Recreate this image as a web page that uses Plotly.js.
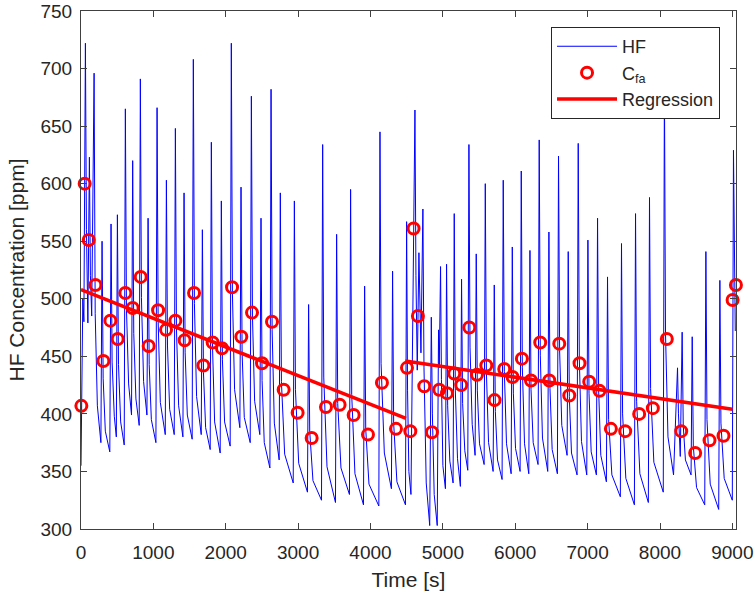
<!DOCTYPE html>
<html>
<head>
<meta charset="utf-8">
<script src="https://cdn.plot.ly/plotly-3.0.1.min.js"></script>
<style>html,body{margin:0;padding:0;background:#fff;}#chart{width:756px;height:595px;}</style>
</head>
<body>
<div id="chart"></div>
<script>
// HF concentration trace (time in s, value in ppm)
const hfTime = [0,25,40,61,75,95,116,130,148,181,196,226,275,291,306,336,398,415,430,460,488,503,518,548,597,613,628,658,698,714,729,759,804,820,835,865,911,927,942,972,1035,1051,1066,1096,1164,1180,1195,1225,1288,1304,1319,1349,1408,1424,1439,1469,1536,1552,1567,1597,1661,1677,1692,1722,1785,1801,1816,1846,1923,1939,1954,1984,2061,2077,2092,2122,2195,2211,2226,2256,2338,2354,2369,2399,2471,2487,2502,2532,2610,2626,2641,2671,2738,2754,2769,2814,2932,2948,2963,3008,3129,3145,3160,3205,3323,3339,3354,3399,3516,3532,3547,3592,3709,3725,3740,3785,3903,3919,3934,3979,4115,4131,4146,4191,4289,4305,4320,4365,4483,4499,4512,4530,4559,4614,4628,4646,4669,4684,4697,4724,4739,4770,4818,4840,4855,4880,4922,4940,4950,4968,4980,5000,5035,5051,5066,5096,5141,5157,5172,5202,5242,5258,5273,5303,5344,5360,5375,5405,5445,5461,5476,5506,5570,5586,5601,5631,5694,5710,5725,5755,5818,5834,5849,5879,5943,5959,5974,6004,6067,6083,6098,6128,6187,6203,6218,6248,6315,6331,6346,6376,6449,6465,6480,6510,6582,6598,6613,6643,6716,6732,6747,6777,6854,6870,6885,6915,6988,7004,7019,7049,7121,7137,7152,7182,7259,7275,7290,7335,7452,7468,7483,7528,7646,7662,7677,7722,7839,7855,7870,7915,8045,8061,8076,8110,8187,8242,8255,8280,8306,8321,8351,8429,8445,8460,8505,8618,8634,8649,8694,8811,8827,8842,8887,8999,9015,9040];
const hfValue = [355,500,480,722,560,479,623,520,485,696,487,407,375,550,431,385,367,565,445,398,380,573,443,393,373,665,492,426,399,620,470,413,390,691,501,428,399,570,443,395,375,666,481,410,382,603,459,404,382,648,474,407,380,592,453,399,378,708,496,415,382,560,436,388,369,636,461,393,366,585,447,393,372,722,505,421,388,597,453,397,375,676,485,411,382,570,429,375,353,682,473,392,360,592,428,365,340,585,421,357,332,495,385,342,325,634,432,354,323,556,409,353,330,595,417,348,321,511,387,339,320,645,444,366,335,524,392,341,321,567,420,350,330,664,520,438,540,480,453,578,440,340,303,484,400,330,303,473,440,528,430,355,335,530,407,359,340,574,420,361,337,517,409,368,351,634,458,391,364,539,420,374,356,600,437,375,350,512,402,360,343,603,437,374,348,545,418,370,350,611,440,374,348,542,421,375,356,638,451,379,350,558,422,369,348,624,455,390,364,541,415,366,347,635,448,376,347,551,418,367,347,570,421,364,341,519,395,347,328,548,400,344,321,574,411,348,323,588,422,358,332,690,470,380,347,440,400,363,471,390,360,347,467,372,336,321,541,395,339,317,516,392,344,325,629,472];

// C_fa points
const cfaTime = [5,51,107,199,309,406,507,613,714,825,935,1065,1175,1304,1432,1562,1691,1819,1948,2087,2215,2363,2501,2639,2800,2993,3187,3385,3573,3767,3965,4158,4352,4504,4550,4595,4655,4743,4849,4950,5057,5157,5254,5365,5471,5600,5714,5848,5963,6092,6217,6345,6470,6608,6746,6888,7022,7164,7321,7519,7712,7901,8094,8293,8486,8684,8877,9003,9049];
const cfaValue = [407,600,551,512,446,481,465,505,492,519,459,490,473,481,464,505,442,462,457,510,467,488,444,480,421,401,379,406,408,399,382,427,387,440,385,561,485,424,384,421,418,435,425,475,434,442,412,439,432,448,429,462,429,461,416,444,428,420,387,385,400,405,465,385,366,377,381,499,512];

// Regression segments (null separates the two fits)
const regTime = [0,4490,null,4480,9000];
const regValue = [508,396,null,446,404];

// Axis ticks
const xTicks = [0,1000,2000,3000,4000,5000,6000,7000,8000,9000];
const yTicks = [300,350,400,450,500,550,600,650,700,750];

const FONT = 'Liberation Sans, Arial, Helvetica, sans-serif';
const TXT = '#262626';

const traces = [
  {x: hfTime, y: hfValue, type: 'scatter', mode: 'lines', name: 'HF',
   line: {color: '#0000ff', width: 1}},
  {x: cfaTime, y: cfaValue, type: 'scatter', mode: 'markers', name: 'C<sub>fa</sub>',
   cliponaxis: false,
   marker: {symbol: 'circle-open', size: 11, color: '#ff0000', line: {color: '#ff0000', width: 3}}},
  {x: regTime, y: regValue, type: 'scatter', mode: 'lines', name: 'Regression',
   line: {color: '#ff0000', width: 3.5}}
];

const axisCommon = {
  showgrid: false, zeroline: false, showline: true, linecolor: '#404040', linewidth: 1,
  mirror: 'ticks', ticks: 'inside', ticklen: 6, tickcolor: '#404040', tickwidth: 1,
  tickfont: {family: FONT, size: 19, color: TXT}
};

const layout = {
  width: 756, height: 595,
  margin: {l: 81, r: 20, t: 11, b: 66, pad: 0},
  paper_bgcolor: '#ffffff', plot_bgcolor: '#ffffff',
  font: {family: FONT, color: TXT},
  showlegend: true,
  xaxis: Object.assign({}, axisCommon, {
    range: [0, 9050], tickmode: 'array', tickvals: xTicks, ticklabelstandoff: 6,
    title: {text: 'Time [s]', font: {family: FONT, size: 21, color: TXT}, standoff: 10}
  }),
  yaxis: Object.assign({}, axisCommon, {
    range: [300, 750], tickmode: 'array', tickvals: yTicks, ticklabelstandoff: 4,
    title: {text: 'HF Concentration [ppm]', font: {family: FONT, size: 21, color: TXT}, standoff: 10}
  }),
  legend: {
    x: 0.7176, y: 0.969, xanchor: 'left', yanchor: 'top',
    bgcolor: '#ffffff', bordercolor: '#262626', borderwidth: 1,
    font: {family: FONT, size: 18, color: TXT},
    itemwidth: 60, tracegroupgap: 0
  }
};

Plotly.newPlot('chart', traces, layout, {staticPlot: true, displayModeBar: false});
</script>
</body>
</html>
